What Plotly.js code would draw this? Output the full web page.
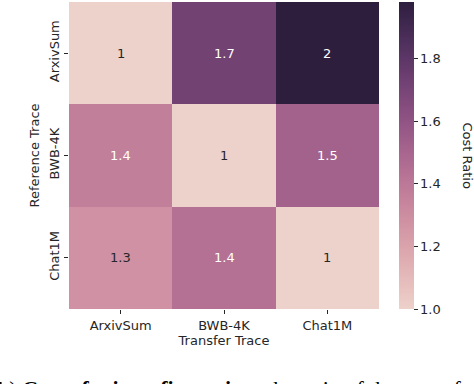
<!DOCTYPE html>
<html>
<head>
<meta charset="utf-8">
<script src="https://cdn.plot.ly/plotly-3.0.1.min.js"></script>
<style>html,body{margin:0;padding:0;background:#fff;}#chart{width:474px;height:384px;}</style>
</head>
<body>
<div id="chart"></div>
<script>
// Data
const transferTraces = ["ArxivSum", "BWB-4K", "Chat1M"];
const referenceTraces = ["ArxivSum", "BWB-4K", "Chat1M"];
const costArxivSum = [1.0, 1.72, 1.98];
const costBWB4K = [1.37, 1.0, 1.52];
const costChat1M = [1.28, 1.44, 1.0];
const colorbarTicks = [1.0, 1.2, 1.4, 1.6, 1.8];

const zValues = [costArxivSum, costBWB4K, costChat1M];

// seaborn cubehelix_palette(as_cmap=True) colours
function cubehelixColor(x) {
  const start = 0, rot = 0.4, gamma = 1.0, hue = 0.8;
  const xg = Math.pow(x, gamma);
  const a = hue * xg * (1 - xg) / 2;
  const phi = 2 * Math.PI * (start / 3 + rot * x);
  const ch = (p0, p1) => Math.min(1, Math.max(0, xg + a * (p0 * Math.cos(phi) + p1 * Math.sin(phi))));
  const r = ch(-0.14861, 1.78277), g = ch(-0.29227, -0.90649), b = ch(1.97294, 0.0);
  return `rgb(${Math.round(r * 255)},${Math.round(g * 255)},${Math.round(b * 255)})`;
}
const colorscale = [];
const nStops = 32;
for (let i = 0; i <= nStops; i++) {
  const t = i / nStops;
  colorscale.push([t, cubehelixColor(0.85 + (0.15 - 0.85) * t)]);
}

const allVals = zValues.flat();
const zmin = Math.min(...allVals), zmax = Math.max(...allVals);

function fmt2g(v) {
  return String(parseFloat(v.toPrecision(2)));
}

const annotations = [];
referenceTraces.forEach((ref, i) => {
  transferTraces.forEach((tr, j) => {
    const v = zValues[i][j];
    const t = (v - zmin) / (zmax - zmin);
    annotations.push({
      x: tr, y: ref, xref: 'x', yref: 'y',
      text: fmt2g(v), showarrow: false,
      font: {family: 'DejaVu Sans', size: 13, color: t < 0.3 ? '#262626' : '#ffffff'}
    });
  });
});

// colour bar title, reading top-to-bottom
annotations.push({
  xref: 'paper', yref: 'paper', x: 1.284, y: 0.5, xanchor: 'center', yanchor: 'middle',
  showarrow: false, textangle: 90, text: 'Cost Ratio',
  font: {family: 'DejaVu Sans', size: 13, color: '#262626'}
});

// caption (cut off at the bottom edge as in the reference)
annotations.push({
  xref: 'paper', yref: 'paper', x: -0.258, y: -0.212, xanchor: 'left', yanchor: 'top',
  showarrow: false, align: 'left',
  text: '(b) <b>Cost of misconfiguration:</b> the ratio of the cost of',
  font: {family: 'Liberation Serif, DejaVu Serif, serif', size: 22, color: '#000'}
});

const trace = {
  type: 'heatmap',
  x: transferTraces,
  y: referenceTraces,
  z: zValues,
  colorscale: colorscale,
  zmin: zmin, zmax: zmax,
  xgap: 0, ygap: 0,
  hoverinfo: 'skip',
  colorbar: {
    thickness: 15,
    len: 1.0, lenmode: 'fraction',
    y: 0.5, yanchor: 'middle',
    x: 1.065, xanchor: 'left', xpad: 0, ypad: 0,
    outlinewidth: 0,
    ticks: 'outside', ticklen: 4, tickwidth: 1, tickcolor: '#262626',
    tickvals: colorbarTicks,
    ticktext: colorbarTicks.map(v => v.toFixed(1)),
    tickfont: {family: 'DejaVu Sans', size: 13, color: '#262626'}
  }
};

const layout = {
  width: 474, height: 384,
  margin: {l: 69, r: 95, t: 2, b: 75},
  paper_bgcolor: '#ffffff', plot_bgcolor: '#ffffff',
  font: {family: 'DejaVu Sans', size: 13, color: '#262626'},
  xaxis: {
    type: 'category', showgrid: false, zeroline: false, showline: false,
    ticks: 'outside', ticklen: 4, tickwidth: 1, tickcolor: '#262626',
    tickfont: {family: 'DejaVu Sans', size: 13, color: '#262626'},
    title: {text: 'Transfer Trace', standoff: 4, font: {family: 'DejaVu Sans', size: 13, color: '#262626'}}
  },
  yaxis: {
    type: 'category', autorange: 'reversed', showgrid: false, zeroline: false, showline: false,
    ticks: 'outside', ticklen: 4, tickwidth: 1, tickcolor: '#262626', tickangle: -90,
    tickfont: {family: 'DejaVu Sans', size: 13, color: '#262626'},
    title: {text: 'Reference Trace', standoff: 4, font: {family: 'DejaVu Sans', size: 13, color: '#262626'}}
  },
  annotations: annotations
};

Plotly.newPlot('chart', [trace], layout, {displayModeBar: false, staticPlot: true});
</script>
</body>
</html>
